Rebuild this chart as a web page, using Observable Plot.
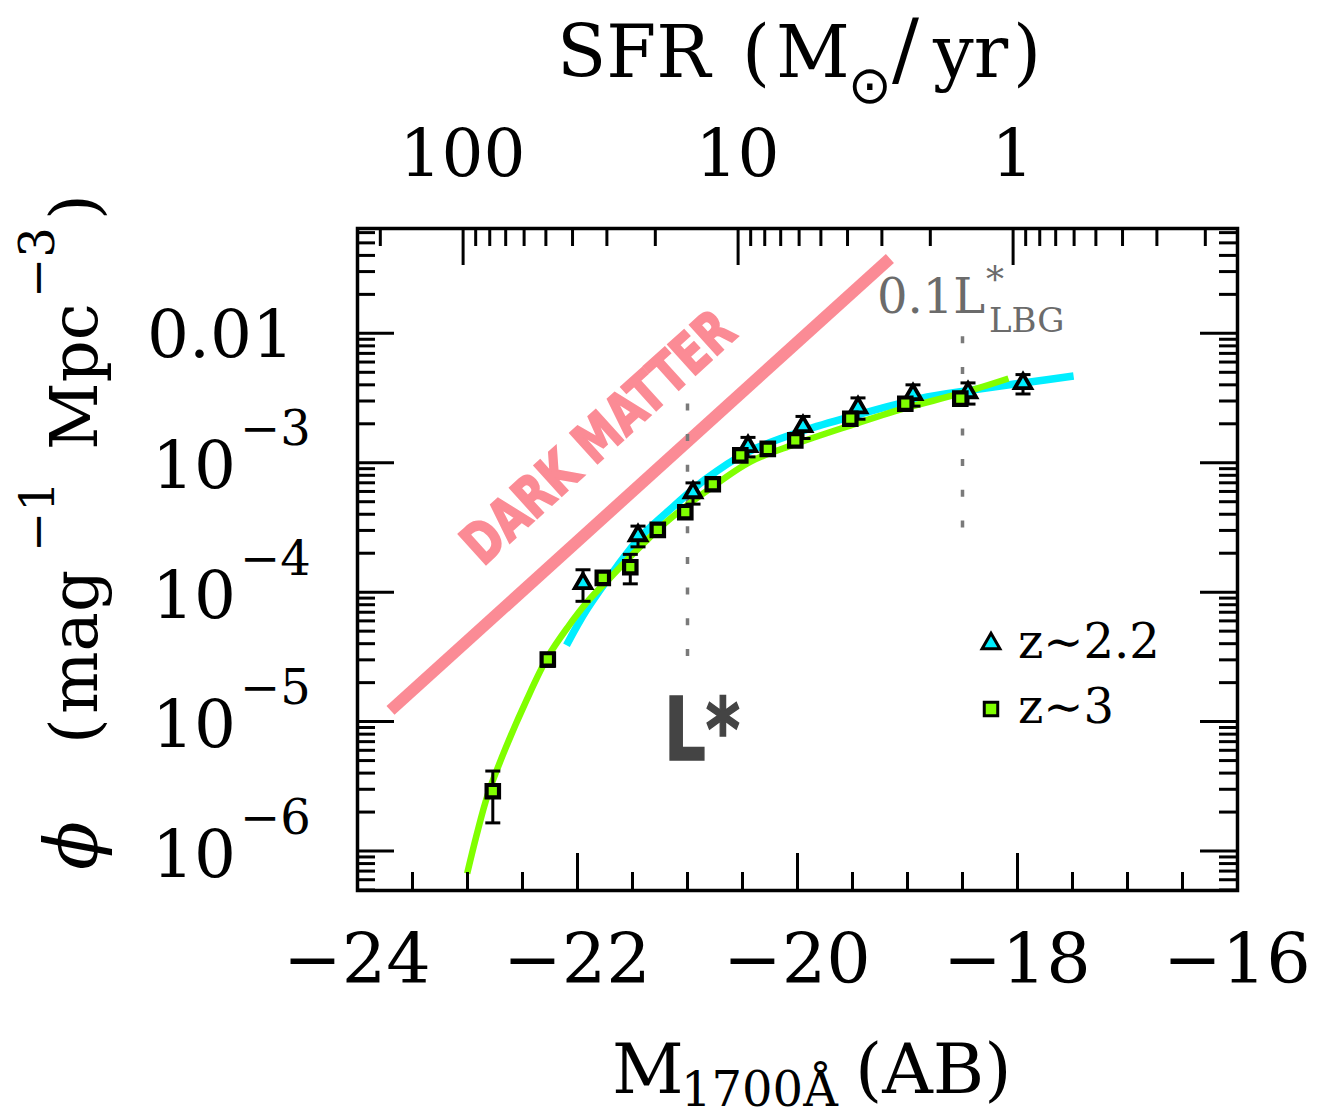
<!DOCTYPE html>
<html>
<head>
<meta charset="utf-8">
<script src="https://cdn.jsdelivr.net/npm/d3@7"></script>
<script src="https://cdn.jsdelivr.net/npm/@observablehq/plot@0.6"></script>
<style>
  html, body { margin: 0; padding: 0; background: #fff; }
  #chart svg { display: block; }
</style>
</head>
<body>
<div id="chart"></div>
<script>
// ---------------- data ----------------
// z~3 (squares)
const z3Mag = [-22.77, -22.27, -21.77, -21.52, -21.27, -21.02, -20.77, -20.52, -20.27, -20.02, -19.52, -19.02, -18.52];
const z3Phi = [2.9e-6, 3.02e-5, 1.29e-4, 1.56e-4, 3.03e-4, 4.15e-4, 6.82e-4, 1.14e-3, 1.28e-3, 1.49e-3, 2.19e-3, 2.86e-3, 3.13e-3];
const z3Err = [1.25e-6, 3.5e-6, 0, 4.0e-5, 0, 0, 0, 0, 0, 0, 0, 0, 0];

// z~2.2 (triangles)
const z22Mag = [-21.95, -21.45, -20.95, -20.45, -19.95, -19.45, -18.95, -18.45, -17.95];
const z22Phi = [1.17e-4, 2.74e-4, 5.89e-4, 1.34e-3, 1.91e-3, 2.67e-3, 3.37e-3, 3.49e-3, 4.10e-3];
const z22Err = [3.2e-5, 5.0e-5, 1.1e-4, 2.3e-4, 3.7e-4, 5.0e-4, 6.3e-4, 6.5e-4, 7.0e-4];

// fitted curves
const fitZ3Mag = [-23.003, -22.918, -22.818, -22.655, -22.464, -22.273, -22.091, -21.900, -21.700, -21.545, -21.364, -21.155, -20.818, -20.427, -20.036, -19.545, -19.036, -18.518, -18.082];
const fitZ3Phi = [6.70e-7, 1.32e-6, 2.69e-6, 6.19e-6, 1.46e-5, 3.13e-5, 5.33e-5, 8.63e-5, 1.30e-4, 1.79e-4, 2.55e-4, 3.71e-4, 6.11e-4, 1.02e-3, 1.38e-3, 1.91e-3, 2.62e-3, 3.43e-3, 4.48e-3];
const fitZ22Mag = [-22.10, -21.92, -21.64, -21.43, -21.13, -20.84, -20.46, -19.99, -19.52, -18.89, -18.43, -17.92, -17.49];
const fitZ22Phi = [3.89e-5, 7.24e-5, 1.58e-4, 2.66e-4, 4.57e-4, 7.41e-4, 1.20e-3, 1.72e-3, 2.26e-3, 3.13e-3, 3.63e-3, 4.17e-3, 4.68e-3];

// dark matter line
const darkMatterMag = [-23.70, -19.16];
const darkMatterPhi = [1.22e-5, 3.79e-2];

// reference luminosity markers (L*, 0.1 L*)
const refMag = [-21.0, -18.5];
const refPhiTop = [2.85e-3, 9.4e-3];
const refPhiBottom = [3.1e-5, 3.1e-4];

// axes
const xMajorTicks = [-24, -22, -20, -18, -16];
const xTickLabels = ["\u221224", "\u221222", "\u221220", "\u221218", "\u221216"];
const xMinorTicks = [-23.5, -23, -22.5, -21.5, -21, -20.5, -19.5, -19, -18.5, -17.5, -17, -16.5];
const yMajorTicks = [1e-2, 1e-3, 1e-4, 1e-5, 1e-6];
const yTickBase = ["0.01", "10", "10", "10", "10"];
const yTickExp = ["", "\u22123", "\u22124", "\u22125", "\u22126"];
const yDecades = [1e-7, 1e-6, 1e-5, 1e-4, 1e-3, 1e-2];
const yMantissas = [2, 3, 4, 5, 6, 7, 8, 9];
const sfrMajor = [100, 10, 1];
const sfrLabels = ["100", "10", "1"];
const sfrMinor = [200, 90, 80, 70, 60, 50, 40, 30, 20, 9, 8, 7, 6, 5, 4, 3, 2, 0.9, 0.8, 0.7, 0.6, 0.5, 0.4, 0.3, 0.2];
const magAtSfr1 = -18.04;   // M_1700 where SFR = 1 Msun/yr
const magPerDex = 2.5;
const legendLabels = ["z\u223C2.2", "z\u223C3"];

// ---------------- build tables ----------------
const z3 = z3Mag.map((M, i) => ({M, phi: z3Phi[i], err: z3Err[i]}));
const z22 = z22Mag.map((M, i) => ({M, phi: z22Phi[i], err: z22Err[i]}));
const fitZ3 = fitZ3Mag.map((M, i) => ({M, phi: fitZ3Phi[i]}));
const fitZ22 = fitZ22Mag.map((M, i) => ({M, phi: fitZ22Phi[i]}));
const darkMatter = darkMatterMag.map((M, i) => ({M, phi: darkMatterPhi[i]}));
const refLines = refMag.map((M, i) => ({M, top: refPhiTop[i], bottom: refPhiBottom[i]}));
const yDomain = [Math.pow(10, -6.305), Math.pow(10, -1.19)];
const yMinorTicks = yDecades.flatMap(d => yMantissas.map(m => m * d)).filter(v => v >= yDomain[0] && v <= yDomain[1]);
const sfrToMag = s => magAtSfr1 - magPerDex * Math.log10(s);
const topMajor = sfrMajor.map(sfrToMag);
const topMinor = sfrMinor.map(sfrToMag);
const z3WithErr = z3.filter(d => d.err > 0);
const z22WithErr = z22.filter(d => d.err > 0);

const CYAN = "#00eeff", GREEN = "#80ff00", PINK = "#fb8b95";
const W = 1320, H = 1119, ML = 357, MR = 83, MT = 228, MB = 229;
const innerW = W - ML - MR, innerH = H - MT - MB;
const major = 37, minor = 18;
const capSymbol = {draw(ctx) { ctx.moveTo(-7.5, 0); ctx.lineTo(7.5, 0); }};
const tickStyle = {stroke: "black", strokeWidth: 3};
const errStyle = {stroke: "black", strokeWidth: 3};

const chart = Plot.plot({
  width: W, height: H,
  marginLeft: ML, marginRight: MR, marginTop: MT, marginBottom: MB,
  x: {domain: [-24, -16], axis: null},
  y: {type: "log", domain: yDomain, axis: null},
  style: {background: "white"},
  marks: [
    Plot.line(darkMatter, {x: "M", y: "phi", stroke: PINK, strokeWidth: 12, strokeLinecap: "butt"}),
    Plot.ruleX(refLines, {x: "M", y1: "top", y2: "bottom", stroke: "#7a7a7a", strokeWidth: 3.5, strokeDasharray: "7,23.7"}),
    Plot.line(fitZ22, {x: "M", y: "phi", stroke: CYAN, strokeWidth: 7.5, curve: "catmull-rom", strokeLinecap: "butt"}),
    Plot.line(fitZ3, {x: "M", y: "phi", stroke: GREEN, strokeWidth: 6.5, curve: "catmull-rom", strokeLinecap: "butt"}),
    // ticks: bottom / top
    Plot.ruleX(xMajorTicks, {x: d => d, insetTop: innerH - major, ...tickStyle}),
    Plot.ruleX(xMinorTicks, {x: d => d, insetTop: innerH - minor, ...tickStyle}),
    Plot.ruleX(topMajor, {x: d => d, insetBottom: innerH - major, ...tickStyle}),
    Plot.ruleX(topMinor, {x: d => d, insetBottom: innerH - minor, ...tickStyle}),
    // ticks: left / right
    Plot.ruleY(yMajorTicks, {y: d => d, insetRight: innerW - major, ...tickStyle}),
    Plot.ruleY(yMinorTicks, {y: d => d, insetRight: innerW - minor, ...tickStyle}),
    Plot.ruleY(yMajorTicks, {y: d => d, insetLeft: innerW - major, ...tickStyle}),
    Plot.ruleY(yMinorTicks, {y: d => d, insetLeft: innerW - minor, ...tickStyle}),
    Plot.frame({stroke: "black", strokeWidth: 3.5}),
    // error bars + markers
    Plot.ruleX(z22WithErr, {x: "M", y1: d => d.phi - d.err, y2: d => d.phi + d.err, ...errStyle}),
    Plot.dot(z22WithErr, {x: "M", y: d => d.phi + d.err, symbol: capSymbol, r: 1, fill: "none", ...errStyle}),
    Plot.dot(z22WithErr, {x: "M", y: d => d.phi - d.err, symbol: capSymbol, r: 1, fill: "none", ...errStyle}),
    Plot.dot(z22, {x: "M", y: "phi", symbol: "triangle", r: 6.1, fill: CYAN, stroke: "black", strokeWidth: 3.8}),
    Plot.ruleX(z3WithErr, {x: "M", y1: d => d.phi - d.err, y2: d => d.phi + d.err, ...errStyle}),
    Plot.dot(z3WithErr, {x: "M", y: d => d.phi + d.err, symbol: capSymbol, r: 1, fill: "none", ...errStyle}),
    Plot.dot(z3WithErr, {x: "M", y: d => d.phi - d.err, symbol: capSymbol, r: 1, fill: "none", ...errStyle}),
    Plot.dot(z3, {x: "M", y: "phi", symbol: "square", r: 7, fill: GREEN, stroke: "black", strokeWidth: 4.2}),
    // legend symbols
    Plot.dot([0], {frameAnchor: "top-left", dx: 990.5 - ML, dy: 643 - MT, symbol: "triangle", r: 6.6, fill: CYAN, stroke: "black", strokeWidth: 3}),
    Plot.dot([0], {frameAnchor: "top-left", dx: 990.5 - ML, dy: 708.5 - MT, symbol: "square", r: 7.6, fill: GREEN, stroke: "black", strokeWidth: 3})
  ]
});
document.getElementById("chart").append(chart);

// ---------------- text (with super/subscripts) ----------------
const X = chart.scale("x"), Y = chart.scale("y");
const svg = d3.select(chart);
const SERIF = "'DejaVu Serif', 'Liberation Serif', serif";
const NARROW = "'Liberation Sans Narrow', 'DejaVu Sans Condensed', 'Liberation Sans', Arial, sans-serif";
const g = svg.append("g").attr("font-family", SERIF).attr("fill", "black").attr("text-anchor", "start");

// bottom tick labels
xMajorTicks.forEach((v, i) => {
  g.append("text").attr("x", X.apply(v)).attr("y", 983).attr("text-anchor", "middle")
    .attr("font-size", 70).text(xTickLabels[i]);
});
// top tick labels (SFR)
sfrMajor.forEach((s, i) => {
  g.append("text").attr("x", X.apply(sfrToMag(s))).attr("y", 176).attr("text-anchor", "middle")
    .attr("font-size", 66).text(sfrLabels[i]);
});
// left tick labels
yMajorTicks.forEach((v, i) => {
  const yy = Y.apply(v);
  if (!yTickExp[i]) {
    g.append("text").attr("x", 294).attr("y", yy + 24).attr("text-anchor", "end")
      .attr("font-size", 66).text(yTickBase[i]);
  } else {
    g.append("text").attr("x", 236).attr("y", yy + 26).attr("text-anchor", "end")
      .attr("font-size", 66).text(yTickBase[i]);
    g.append("text").attr("x", 240).attr("y", yy - 17).attr("text-anchor", "start")
      .attr("font-size", 48).text(yTickExp[i]);
  }
});

// top title: SFR (M_sun/yr)
const tt = g.append("text").attr("font-size", 72).attr("text-anchor", "start");
tt.append("tspan").attr("x", 557).attr("y", 77).text("SFR");
tt.append("tspan").attr("x", 742).attr("y", 77).text("(");
tt.append("tspan").attr("x", 776).attr("y", 77).text("M");
tt.append("tspan").attr("x", 848).attr("y", 103).attr("font-size", 52)
  .attr("font-family", "'DejaVu Sans', 'DejaVu Serif', sans-serif").text("\u2299");
tt.append("tspan").attr("x", 892).attr("y", 77).attr("font-size", 80).text("/");
tt.append("tspan").attr("x", 933).attr("y", 77).text("yr");
tt.append("tspan").attr("x", 1013).attr("y", 77).text(")");

// bottom title: M_1700Å (AB)
const xt = g.append("text").attr("font-size", 70).attr("text-anchor", "start");
xt.append("tspan").attr("x", 612).attr("y", 1093).text("M");
xt.append("tspan").attr("x", 681).attr("y", 1106).attr("font-size", 48).text("1700\u00C5");
xt.append("tspan").attr("x", 855).attr("y", 1093).text("(AB)");

// left title: phi (mag^-1 Mpc^-3)
const yt = g.append("text").attr("font-size", 66).attr("text-anchor", "start")
  .attr("transform", "translate(97,870) rotate(-90)");
yt.append("tspan").attr("x", 0).attr("y", 0).attr("font-style", "italic").attr("font-size", 72).text("\u03D5");
yt.append("tspan").attr("x", 126).attr("y", 0).text("(");
yt.append("tspan").attr("x", 156).attr("y", 0).text("mag");
yt.append("tspan").attr("x", 318).attr("y", -43).attr("font-size", 48).text("\u22121");
yt.append("tspan").attr("x", 420).attr("y", 0).text("Mpc");
yt.append("tspan").attr("x", 572).attr("y", -43).attr("font-size", 48).text("\u22123");
yt.append("tspan").attr("x", 650).attr("y", 0).text(")");

// legend labels
g.append("text").attr("x", 1018).attr("y", 658).attr("font-size", 48).text(legendLabels[0]);
g.append("text").attr("x", 1018).attr("y", 723).attr("font-size", 48).text(legendLabels[1]);

// 0.1 L*_LBG annotation
const lt = g.append("text").attr("font-size", 48).attr("fill", "#6b6b6b").attr("text-anchor", "start");
lt.append("tspan").attr("x", 877).attr("y", 313).text("0.1L");
lt.append("tspan").attr("x", 986).attr("y", 292).attr("font-size", 36).text("*");
lt.append("tspan").attr("x", 989).attr("y", 332).attr("font-size", 34).text("LBG");

// L* annotation
svg.append("text").attr("x", 664).attr("y", 760).attr("text-anchor", "start")
  .attr("font-family", NARROW).attr("font-weight", "bold")
  .attr("font-size", 88).attr("fill", "#444444").attr("stroke", "#444444").attr("stroke-width", 1.5)
  .attr("textLength", 76).attr("lengthAdjust", "spacingAndGlyphs")
  .text("L*");

// DARK MATTER label, parallel to the dark-matter line
const p0 = [X.apply(darkMatterMag[0]), Y.apply(darkMatterPhi[0])];
const p1 = [X.apply(darkMatterMag[1]), Y.apply(darkMatterPhi[1])];
const ang = Math.atan2(p1[1] - p0[1], p1[0] - p0[0]) * 180 / Math.PI;
svg.append("text").attr("transform", `translate(483,567) rotate(${ang})`).attr("text-anchor", "start")
  .attr("font-family", NARROW).attr("font-weight", "bold").attr("font-size", 56)
  .attr("fill", PINK).attr("stroke", PINK).attr("stroke-width", 2)
  .attr("textLength", 345).attr("lengthAdjust", "spacingAndGlyphs")
  .text("DARK MATTER");
</script>
</body>
</html>
